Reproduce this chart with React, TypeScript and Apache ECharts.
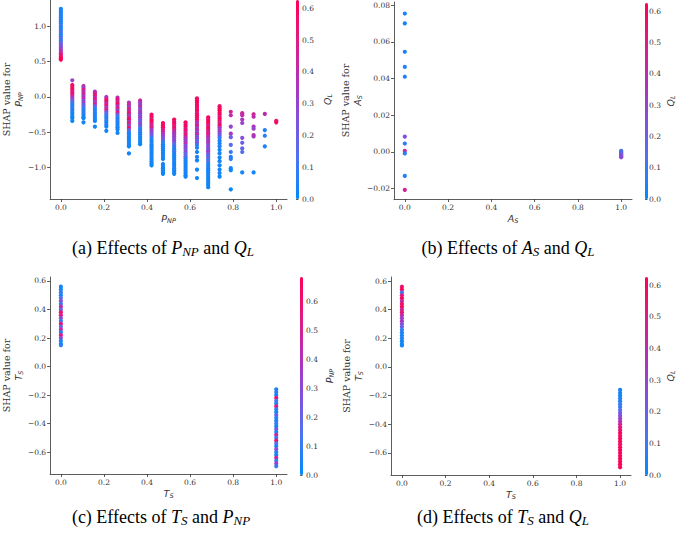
import React, { useEffect, useRef } from "react";
import * as echarts from "echarts";

// ---------- DATA ----------
// [feature value, SHAP value, colour feature value]
const shapA: number[][] = [
  [0, 1.25, 0.03], [0, 1.22, 0.05], [0, 1.19, 0.02], [0, 1.16, 0.06], [0, 1.13, 0.04], [0, 1.1, 0.08], [0, 1.07, 0.03], [0, 1.04, 0.05], [0, 1.01, 0.1], [0, 0.98, 0.04], [0, 0.95, 0.07], [0, 0.92, 0.12], [0, 0.89, 0.05], [0, 0.86, 0.1], [0, 0.83, 0.15], [0, 0.8, 0.08], [0, 0.77, 0.18], [0, 0.74, 0.22], [0, 0.71, 0.25], [0, 0.68, 0.3], [0, 0.65, 0.35], [0, 0.62, 0.42], [0, 0.6, 0.5], [0, 0.57, 0.58], [0, 0.55, 0.6], [0, 0.53, 0.62],
  [0.053, 0.237, 0.3], [0.053, 0.17, 0.6], [0.053, 0.14, 0.55], [0.053, 0.11, 0.62], [0.053, 0.08, 0.5], [0.053, 0.05, 0.58], [0.053, 0.02, 0.45], [0.053, -0.01, 0.35], [0.053, -0.04, 0.25], [0.053, -0.07, 0.15], [0.053, -0.1, 0.08], [0.053, -0.13, 0.05], [0.053, -0.16, 0.1], [0.053, -0.19, 0.03], [0.053, -0.22, 0.06], [0.053, -0.25, 0.02], [0.053, -0.28, 0.05], [0.053, -0.3, 0.01], [0.053, -0.34, 0.02],
  [0.105, 0.156, 0.4], [0.105, 0.13, 0.3], [0.105, 0.1, 0.5], [0.105, 0.07, 0.35], [0.105, 0.04, 0.45], [0.105, 0.01, 0.3], [0.105, -0.02, 0.4], [0.105, -0.05, 0.25], [0.105, -0.08, 0.3], [0.105, -0.11, 0.2], [0.105, -0.14, 0.15], [0.105, -0.17, 0.08], [0.105, -0.2, 0.05], [0.105, -0.23, 0.1], [0.105, -0.26, 0.03], [0.105, -0.29, 0.06], [0.105, -0.3, 0.02], [0.105, -0.36, 0.03],
  [0.158, 0.075, 0.35], [0.158, 0.05, 0.45], [0.158, 0.02, 0.55], [0.158, -0.01, 0.4], [0.158, -0.04, 0.5], [0.158, -0.07, 0.3], [0.158, -0.1, 0.45], [0.158, -0.13, 0.2], [0.158, -0.16, 0.1], [0.158, -0.19, 0.05], [0.158, -0.22, 0.08], [0.158, -0.25, 0.03], [0.158, -0.28, 0.06], [0.158, -0.31, 0.02], [0.158, -0.34, 0.04], [0.158, -0.42, 0.03],
  [0.211, 0.0, 0.35], [0.211, -0.03, 0.5], [0.211, -0.06, 0.6], [0.211, -0.09, 0.4], [0.211, -0.12, 0.55], [0.211, -0.15, 0.3], [0.211, -0.18, 0.5], [0.211, -0.21, 0.25], [0.211, -0.24, 0.15], [0.211, -0.27, 0.08], [0.211, -0.3, 0.05], [0.211, -0.33, 0.1], [0.211, -0.36, 0.03], [0.211, -0.39, 0.06], [0.211, -0.42, 0.02], [0.211, -0.48, 0.03],
  [0.263, -0.01, 0.4], [0.263, -0.04, 0.55], [0.263, -0.07, 0.45], [0.263, -0.1, 0.6], [0.263, -0.13, 0.35], [0.263, -0.16, 0.5], [0.263, -0.19, 0.3], [0.263, -0.22, 0.55], [0.263, -0.25, 0.2], [0.263, -0.28, 0.1], [0.263, -0.31, 0.05], [0.263, -0.34, 0.08], [0.263, -0.37, 0.03], [0.263, -0.4, 0.06], [0.263, -0.43, 0.02], [0.263, -0.46, 0.04], [0.263, -0.51, 0.03],
  [0.316, -0.08, 0.35], [0.316, -0.11, 0.45], [0.316, -0.14, 0.3], [0.316, -0.17, 0.5], [0.316, -0.2, 0.4], [0.316, -0.23, 0.55], [0.316, -0.26, 0.3], [0.316, -0.29, 0.45], [0.316, -0.32, 0.6], [0.316, -0.35, 0.35], [0.316, -0.38, 0.5], [0.316, -0.41, 0.25], [0.316, -0.44, 0.55], [0.316, -0.47, 0.2], [0.316, -0.5, 0.08], [0.316, -0.53, 0.05], [0.316, -0.56, 0.03], [0.316, -0.59, 0.06], [0.316, -0.62, 0.02], [0.316, -0.65, 0.04], [0.316, -0.68, 0.05], [0.316, -0.7, 0.02], [0.316, -0.8, 0.03],
  [0.368, -0.05, 0.45], [0.368, -0.08, 0.35], [0.368, -0.11, 0.3], [0.368, -0.14, 0.4], [0.368, -0.17, 0.25], [0.368, -0.2, 0.3], [0.368, -0.23, 0.35], [0.368, -0.26, 0.22], [0.368, -0.29, 0.3], [0.368, -0.32, 0.25], [0.368, -0.35, 0.2], [0.368, -0.38, 0.28], [0.368, -0.41, 0.2], [0.368, -0.44, 0.1], [0.368, -0.47, 0.05], [0.368, -0.5, 0.08], [0.368, -0.53, 0.03], [0.368, -0.56, 0.06], [0.368, -0.59, 0.02], [0.368, -0.62, 0.04], [0.368, -0.65, 0.03], [0.368, -0.67, 0.02],
  [0.421, -0.25, 0.55], [0.421, -0.28, 0.6], [0.421, -0.31, 0.5], [0.421, -0.34, 0.62], [0.421, -0.37, 0.55], [0.421, -0.4, 0.45], [0.421, -0.43, 0.5], [0.421, -0.46, 0.35], [0.421, -0.49, 0.3], [0.421, -0.52, 0.25], [0.421, -0.55, 0.2], [0.421, -0.58, 0.1], [0.421, -0.61, 0.05], [0.421, -0.64, 0.03], [0.421, -0.67, 0.06], [0.421, -0.7, 0.02], [0.421, -0.73, 0.04], [0.421, -0.76, 0.05], [0.421, -0.79, 0.02], [0.421, -0.82, 0.03], [0.421, -0.85, 0.06], [0.421, -0.88, 0.02], [0.421, -0.91, 0.04], [0.421, -0.94, 0.03], [0.421, -0.97, 0.02],
  [0.474, -0.37, 0.6], [0.474, -0.4, 0.55], [0.474, -0.43, 0.62], [0.474, -0.46, 0.5], [0.474, -0.49, 0.45], [0.474, -0.52, 0.35], [0.474, -0.55, 0.3], [0.474, -0.58, 0.25], [0.474, -0.61, 0.2], [0.474, -0.64, 0.1], [0.474, -0.67, 0.05], [0.474, -0.7, 0.03], [0.474, -0.73, 0.06], [0.474, -0.76, 0.02], [0.474, -0.79, 0.04], [0.474, -0.82, 0.03], [0.474, -0.85, 0.05], [0.474, -0.88, 0.02], [0.474, -0.95, 0.03], [0.474, -0.98, 0.05], [0.474, -1.01, 0.02], [0.474, -1.04, 0.04], [0.474, -1.07, 0.03], [0.474, -1.09, 0.02],
  [0.526, -0.32, 0.6], [0.526, -0.35, 0.55], [0.526, -0.38, 0.62], [0.526, -0.41, 0.5], [0.526, -0.44, 0.58], [0.526, -0.47, 0.45], [0.526, -0.5, 0.4], [0.526, -0.53, 0.3], [0.526, -0.56, 0.35], [0.526, -0.59, 0.25], [0.526, -0.62, 0.3], [0.526, -0.65, 0.2], [0.526, -0.68, 0.15], [0.526, -0.71, 0.08], [0.526, -0.74, 0.05], [0.526, -0.77, 0.1], [0.526, -0.8, 0.03], [0.526, -0.83, 0.06], [0.526, -0.86, 0.02], [0.526, -0.89, 0.04], [0.526, -0.92, 0.05], [0.526, -0.95, 0.02], [0.526, -0.98, 0.03], [0.526, -1.01, 0.06], [0.526, -1.04, 0.02], [0.526, -1.07, 0.04], [0.526, -1.09, 0.03],
  [0.579, -0.36, 0.6], [0.579, -0.39, 0.55], [0.579, -0.42, 0.62], [0.579, -0.45, 0.5], [0.579, -0.48, 0.58], [0.579, -0.51, 0.45], [0.579, -0.54, 0.55], [0.579, -0.57, 0.4], [0.579, -0.6, 0.35], [0.579, -0.63, 0.3], [0.579, -0.66, 0.4], [0.579, -0.69, 0.25], [0.579, -0.72, 0.3], [0.579, -0.75, 0.2], [0.579, -0.78, 0.28], [0.579, -0.81, 0.15], [0.579, -0.84, 0.2], [0.579, -0.87, 0.08], [0.579, -0.9, 0.05], [0.579, -0.93, 0.03], [0.579, -0.96, 0.06], [0.579, -0.99, 0.02], [0.579, -1.02, 0.04], [0.579, -1.05, 0.03], [0.579, -1.08, 0.05], [0.579, -1.11, 0.02], [0.579, -1.13, 0.03],
  [0.632, -0.02, 0.55], [0.632, -0.05, 0.6], [0.632, -0.08, 0.62], [0.632, -0.11, 0.58], [0.632, -0.14, 0.6], [0.632, -0.17, 0.55], [0.632, -0.2, 0.62], [0.632, -0.23, 0.5], [0.632, -0.26, 0.6], [0.632, -0.29, 0.55], [0.632, -0.32, 0.58], [0.632, -0.35, 0.45], [0.632, -0.38, 0.35], [0.632, -0.41, 0.5], [0.632, -0.44, 0.3], [0.632, -0.47, 0.4], [0.632, -0.5, 0.25], [0.632, -0.53, 0.45], [0.632, -0.56, 0.2], [0.632, -0.59, 0.3], [0.632, -0.62, 0.15], [0.632, -0.65, 0.25], [0.632, -0.68, 0.1], [0.632, -0.72, 0.05], [0.632, -0.78, 0.03], [0.632, -0.85, 0.06], [0.632, -0.9, 0.02], [0.632, -1.03, 0.02], [0.632, -1.15, 0.03],
  [0.684, -0.29, 0.6], [0.684, -0.32, 0.55], [0.684, -0.35, 0.62], [0.684, -0.38, 0.58], [0.684, -0.41, 0.5], [0.684, -0.44, 0.6], [0.684, -0.47, 0.55], [0.684, -0.5, 0.45], [0.684, -0.53, 0.5], [0.684, -0.56, 0.4], [0.684, -0.59, 0.35], [0.684, -0.62, 0.3], [0.684, -0.65, 0.4], [0.684, -0.68, 0.25], [0.684, -0.71, 0.3], [0.684, -0.74, 0.2], [0.684, -0.77, 0.35], [0.684, -0.8, 0.25], [0.684, -0.83, 0.15], [0.684, -0.86, 0.2], [0.684, -0.89, 0.1], [0.684, -0.92, 0.15], [0.684, -0.95, 0.05], [0.684, -0.98, 0.03], [0.684, -1.01, 0.06], [0.684, -1.04, 0.02], [0.684, -1.07, 0.04], [0.684, -1.1, 0.03], [0.684, -1.13, 0.05], [0.684, -1.16, 0.02], [0.684, -1.19, 0.04], [0.684, -1.22, 0.03], [0.684, -1.25, 0.02], [0.684, -1.28, 0.03],
  [0.737, -0.13, 0.55], [0.737, -0.16, 0.6], [0.737, -0.19, 0.62], [0.737, -0.22, 0.58], [0.737, -0.25, 0.6], [0.737, -0.28, 0.5], [0.737, -0.31, 0.62], [0.737, -0.34, 0.55], [0.737, -0.37, 0.45], [0.737, -0.4, 0.6], [0.737, -0.43, 0.4], [0.737, -0.46, 0.3], [0.737, -0.49, 0.35], [0.737, -0.52, 0.25], [0.737, -0.55, 0.2], [0.737, -0.58, 0.1], [0.737, -0.62, 0.05], [0.737, -0.66, 0.03], [0.737, -0.7, 0.06], [0.737, -0.75, 0.02], [0.737, -0.8, 0.04], [0.737, -0.86, 0.03], [0.737, -0.91, 0.05], [0.737, -0.97, 0.02], [0.737, -1.03, 0.03], [0.737, -1.08, 0.04], [0.737, -1.13, 0.02],
  [0.789, -0.21, 0.45], [0.789, -0.26, 0.4], [0.789, -0.42, 0.3], [0.789, -0.52, 0.35], [0.789, -0.57, 0.2], [0.789, -0.68, 0.15], [0.789, -0.78, 0.1], [0.789, -0.85, 0.05], [0.789, -0.88, 0.08], [0.789, -1.01, 0.03], [0.789, -1.04, 0.02], [0.789, -1.31, 0.02],
  [0.842, -0.23, 0.45], [0.842, -0.26, 0.4], [0.842, -0.32, 0.35], [0.842, -0.37, 0.3], [0.842, -0.58, 0.25], [0.842, -0.65, 0.2], [0.842, -0.73, 0.18], [0.842, -0.78, 0.15], [0.842, -1.07, 0.03],
  [0.895, -0.245, 0.45], [0.895, -0.28, 0.4], [0.895, -0.42, 0.35], [0.895, -0.45, 0.3], [0.895, -0.54, 0.4], [0.895, -0.56, 0.35], [0.895, -1.07, 0.03],
  [0.947, -0.24, 0.4], [0.947, -0.47, 0.05], [0.947, -0.55, 0.08], [0.947, -0.7, 0.04],
  [1.0, -0.34, 0.55], [1.0, -0.36, 0.58],
];

const shapB: number[][] = [
  [0, 0.0755, 0.05], [0, 0.0701, 0.04], [0, 0.0546, 0.05], [0, 0.0464, 0.06], [0, 0.041, 0.05], [0, 0.0083, 0.25], [0, 0.0045, 0.08], [0, 0.0005, 0.45], [0, -0.0009, 0.06], [0, -0.0132, 0.05], [0, -0.0208, 0.45],
  [1, 0.0005, 0.1], [1, 0.0, 0.2], [1, -0.0005, 0.08], [1, -0.001, 0.25], [1, -0.0015, 0.12], [1, -0.002, 0.3], [1, -0.0025, 0.2], [1, -0.003, 0.28],
];

const shapC: number[][] = [
  [0, 0.56, 0.05], [0, 0.54, 0.02], [0, 0.52, 0.1], [0, 0.5, 0.05], [0, 0.48, 0.15], [0, 0.46, 0.3], [0, 0.44, 0.1], [0, 0.42, 0.45], [0, 0.4, 0.2], [0, 0.38, 0.6], [0, 0.36, 0.55], [0, 0.34, 0.3], [0, 0.32, 0.1], [0, 0.3, 0.6], [0, 0.28, 0.2], [0, 0.26, 0.45], [0, 0.24, 0.05], [0, 0.22, 0.55], [0, 0.2, 0.3], [0, 0.18, 0.05], [0, 0.16, 0.02], [0, 0.15, 0.08],
  [1, -0.16, 0.05], [1, -0.18, 0.1], [1, -0.2, 0.02], [1, -0.22, 0.6], [1, -0.24, 0.15], [1, -0.26, 0.05], [1, -0.28, 0.55], [1, -0.3, 0.1], [1, -0.32, 0.03], [1, -0.34, 0.2], [1, -0.36, 0.08], [1, -0.38, 0.05], [1, -0.4, 0.12], [1, -0.42, 0.02], [1, -0.44, 0.25], [1, -0.46, 0.05], [1, -0.48, 0.45], [1, -0.5, 0.1], [1, -0.52, 0.6], [1, -0.54, 0.15], [1, -0.56, 0.05], [1, -0.58, 0.3], [1, -0.6, 0.08], [1, -0.62, 0.02], [1, -0.64, 0.5], [1, -0.66, 0.1], [1, -0.68, 0.35], [1, -0.7, 0.1],
];

const shapD: number[][] = [
  [0, 0.56, 0.55], [0, 0.54, 0.6], [0, 0.52, 0.1], [0, 0.5, 0.5], [0, 0.48, 0.6], [0, 0.46, 0.4], [0, 0.44, 0.55], [0, 0.42, 0.6], [0, 0.4, 0.45], [0, 0.38, 0.55], [0, 0.36, 0.4], [0, 0.34, 0.3], [0, 0.32, 0.35], [0, 0.3, 0.25], [0, 0.28, 0.2], [0, 0.26, 0.08], [0, 0.24, 0.05], [0, 0.22, 0.03], [0, 0.2, 0.06], [0, 0.18, 0.02], [0, 0.16, 0.04], [0, 0.15, 0.03],
  [1, -0.16, 0.03], [1, -0.18, 0.05], [1, -0.2, 0.02], [1, -0.22, 0.06], [1, -0.24, 0.04], [1, -0.26, 0.1], [1, -0.28, 0.08], [1, -0.3, 0.15], [1, -0.32, 0.2], [1, -0.34, 0.25], [1, -0.36, 0.3], [1, -0.38, 0.35], [1, -0.4, 0.45], [1, -0.42, 0.5], [1, -0.44, 0.55], [1, -0.46, 0.6], [1, -0.48, 0.58], [1, -0.5, 0.62], [1, -0.52, 0.6], [1, -0.54, 0.55], [1, -0.56, 0.6], [1, -0.58, 0.62], [1, -0.6, 0.58], [1, -0.62, 0.6], [1, -0.64, 0.62], [1, -0.66, 0.6], [1, -0.68, 0.62], [1, -0.7, 0.6],
];

const xTicks = [0, 0.2, 0.4, 0.6, 0.8, 1.0];
const yTicksA = [-1.0, -0.5, 0, 0.5, 1.0];
const yTicksB = [-0.02, 0, 0.02, 0.04, 0.06, 0.08];
const yTicksCD = [-0.6, -0.4, -0.2, 0, 0.2, 0.4, 0.6];
const cbTicks = [0, 0.1, 0.2, 0.3, 0.4, 0.5, 0.6];
const cbMax = [0.626, 0.627, 0.684, 0.626];

const CMAP = ["#008bfb", "#4a74f2", "#8250dc", "#b52fb6", "#e01a84", "#ff0052"];

// ---------- LAYOUT ----------
const panels = [
  { grid: { left: 47, top: 0, width: 240, height: 199 }, cb: { left: 296, top: 0, width: 3, height: 199 }, cbGap: 22, yGap: 26, yMin: -1.447, yMax: 1.375, yTicks: yTicksA, dec: 1, data: shapA, feat: ["P", "NP"], col: ["Q", "L"] },
  { grid: { left: 394, top: 2, width: 238, height: 197 }, cb: { left: 645, top: 3, width: 3, height: 196 }, cbGap: 18, yGap: 31, yMin: -0.0258, yMax: 0.0818, yTicks: yTicksB, dec: 2, data: shapB, feat: ["A", "S"], col: ["Q", "L"] },
  { grid: { left: 47, top: 277, width: 240, height: 197 }, cb: { left: 300, top: 277, width: 3, height: 198 }, cbGap: 20, yGap: 26, yMin: -0.754, yMax: 0.628, yTicks: yTicksCD, dec: 1, data: shapC, feat: ["T", "S"], col: ["P", "NP"] },
  { grid: { left: 391, top: 277, width: 240, height: 198 }, cb: { left: 645, top: 277, width: 3, height: 198 }, cbGap: 18, yGap: 26, yMin: -0.754, yMax: 0.628, yTicks: yTicksCD, dec: 1, data: shapD, feat: ["T", "S"], col: ["Q", "L"] },
];

const captions = [
  { x: 163, y: 248, letter: "a", f1: ["P", "NP"], f2: ["Q", "L"] },
  { x: 508, y: 248, letter: "b", f1: ["A", "S"], f2: ["Q", "L"] },
  { x: 161, y: 517, letter: "c", f1: ["T", "S"], f2: ["P", "NP"] },
  { x: 503, y: 517, letter: "d", f1: ["T", "S"], f2: ["Q", "L"] },
];

const AX = "#333333";
const fmt = (d: number) => (v: number) => v.toFixed(d).replace("-", "\u2212");

const nameRich = {
  t: { fontFamily: "DejaVu Serif", fontSize: 9.5, color: AX, lineHeight: 12 },
  m: { fontFamily: "DejaVu Sans", fontStyle: "italic", fontSize: 9.5, color: AX, lineHeight: 12 },
  s: { fontFamily: "DejaVu Sans", fontStyle: "italic", fontSize: 6.5, color: AX, padding: [5, 0, 0, 0] },
};

export default function App() {
  const ref = useRef<HTMLDivElement>(null);
  useEffect(() => {
    if (!ref.current) return;
    const chart = echarts.init(ref.current, undefined, { renderer: "svg" });
    const grid: any[] = [];
    const xAxis: any[] = [];
    const yAxis: any[] = [];
    const series: any[] = [];
    const visualMap: any[] = [];

    panels.forEach((p, i) => {
      grid.push({ ...p.grid, containLabel: false });
      xAxis.push({
        type: "value", gridIndex: i, min: -0.05, max: 1.05,
        axisLine: { show: true, onZero: false, lineStyle: { color: AX, width: 0.8 } },
        axisTick: { show: true, length: 3, customValues: xTicks, lineStyle: { color: AX, width: 0.8 } },
        axisLabel: { customValues: xTicks, formatter: fmt(1), fontFamily: "DejaVu Serif", fontSize: 7.5, color: AX, margin: 4 },
        splitLine: { show: false },
        name: `{m|${p.feat[0]}}{s|${p.feat[1]}}`, nameLocation: "middle", nameGap: 13,
        nameTextStyle: { rich: nameRich },
      });
      yAxis.push({
        type: "value", gridIndex: i, min: p.yMin, max: p.yMax,
        axisLine: { show: true, onZero: false, lineStyle: { color: AX, width: 0.8 } },
        axisTick: { show: true, length: 3, customValues: p.yTicks, lineStyle: { color: AX, width: 0.8 } },
        axisLabel: { customValues: p.yTicks, formatter: fmt(p.dec), fontFamily: "DejaVu Serif", fontSize: 7.5, color: AX, margin: 4 },
        splitLine: { show: false },
        name: `{t|SHAP value for}\n{m|${p.feat[0]}}{s|${p.feat[1]}}`, nameLocation: "middle", nameRotate: 90, nameGap: p.yGap,
        nameTextStyle: { rich: nameRich, align: "center" },
      });
      series.push({
        type: "scatter", xAxisIndex: i, yAxisIndex: i, data: p.data, symbolSize: 4.2, silent: true,
        itemStyle: { opacity: 1 },
      });
      // colour scale of the panel, drawn as the colour bar
      visualMap.push({
        type: "continuous", show: true, seriesIndex: i, dimension: 2, min: 0, max: cbMax[i],
        inRange: { color: CMAP },
        orient: "vertical", left: p.cb.left, top: p.cb.top, padding: 0,
        itemWidth: p.cb.width, itemHeight: p.cb.height,
        calculable: false, hoverLink: false, realtime: false, text: null, showLabel: false,
        textStyle: { fontSize: 0 },
      });
    });

    // tick labels and titles of the colour bars
    panels.forEach((p, i) => {
      const gi = 4 + i;
      grid.push({ ...p.cb });
      xAxis.push({ type: "value", gridIndex: gi, min: 0, max: 1, show: false });
      yAxis.push({
        type: "value", gridIndex: gi, min: 0, max: cbMax[i], position: "right",
        axisLine: { show: false },
        axisTick: { show: true, length: 2.5, customValues: cbTicks, lineStyle: { color: AX, width: 0.8 } },
        axisLabel: { customValues: cbTicks, formatter: fmt(1), fontFamily: "DejaVu Serif", fontSize: 7.5, color: AX, margin: 3 },
        splitLine: { show: false },
        name: `{m|${p.col[0]}}{s|${p.col[1]}}`, nameLocation: "middle", nameRotate: 90, nameGap: p.cbGap,
        nameTextStyle: { rich: nameRich },
      });
    });

    const capRich = {
      c: { fontFamily: "Liberation Serif", fontSize: 18, fill: "#000" },
      i: { fontFamily: "Liberation Serif", fontStyle: "italic", fontSize: 18, fill: "#000" },
      s: { fontFamily: "Liberation Serif", fontStyle: "italic", fontSize: 13, fill: "#000", padding: [7, 0, 0, 0] },
    };
    const graphic = captions.map((c) => ({
      type: "text", x: c.x, y: c.y, silent: true,
      style: {
        text: `{c|(${c.letter}) Effects of }{i|${c.f1[0]}}{s|${c.f1[1]}}{c| and }{i|${c.f2[0]}}{s|${c.f2[1]}}`,
        rich: capRich, align: "center", verticalAlign: "middle",
      },
    }));

    chart.setOption({ animation: false, grid, xAxis, yAxis, series, visualMap, graphic });
    return () => chart.dispose();
  }, []);
  return <div ref={ref} style={{ position: "absolute", left: 0, top: 0, width: 677, height: 534, background: "#fff" }} />;
}
